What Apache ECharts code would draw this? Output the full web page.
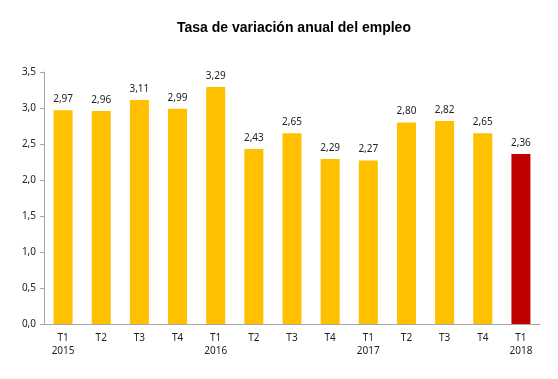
<!DOCTYPE html>
<html><head><meta charset="utf-8">
<script src="https://cdn.jsdelivr.net/npm/echarts@6/dist/echarts.min.js"></script>
<style>html,body{margin:0;padding:0;background:#fff}#c{width:558px;height:379px}</style>
</head><body><div id="c"></div>
<script>
const categories = ["T1\n2015","T2","T3","T4","T1\n2016","T2","T3","T4","T1\n2017","T2","T3","T4","T1\n2018"];
const values = [2.97,2.96,3.11,2.99,3.29,2.43,2.65,2.29,2.27,2.80,2.82,2.65,2.36];
const highlightIndex = 12;
const chart = echarts.init(document.getElementById('c'));
const fmt = v => v.toFixed(2).replace('.', ',');
chart.setOption({
  animation:false,
  title:{text:'Tasa de variación anual del empleo',left:172,top:16,
    textStyle:{fontFamily:'Liberation Sans',fontWeight:'bold',fontSize:14,color:'#000'}},
  grid:{left:44,right:18,top:72,bottom:55},
  xAxis:{type:'category',data:categories,
    axisLine:{lineStyle:{color:'#A6A6A6'}},axisTick:{show:false},
    axisLabel:{color:'#222',fontFamily:'Noto Sans',fontSize:10,lineHeight:13,margin:8,interval:0}},
  yAxis:{type:'value',min:0,max:3.5,interval:0.5,
    axisLine:{show:true,lineStyle:{color:'#A6A6A6'}},axisTick:{show:true,length:4,lineStyle:{color:'#A6A6A6'}},
    splitLine:{show:false},
    axisLabel:{color:'#222',fontFamily:'Noto Sans',fontSize:10,margin:8,formatter:v=>v.toFixed(1).replace('.',',')}},
  series:[{type:'bar',barWidth:19,
    data:values.map((v,i)=>({value:v,itemStyle:{color:i===highlightIndex?'#C00000':'#FFC000'}})),
    label:{show:true,position:'top',distance:6,color:'#222',fontFamily:'Noto Sans',fontSize:10,formatter:p=>fmt(p.value)}}]
});
</script></body></html>
